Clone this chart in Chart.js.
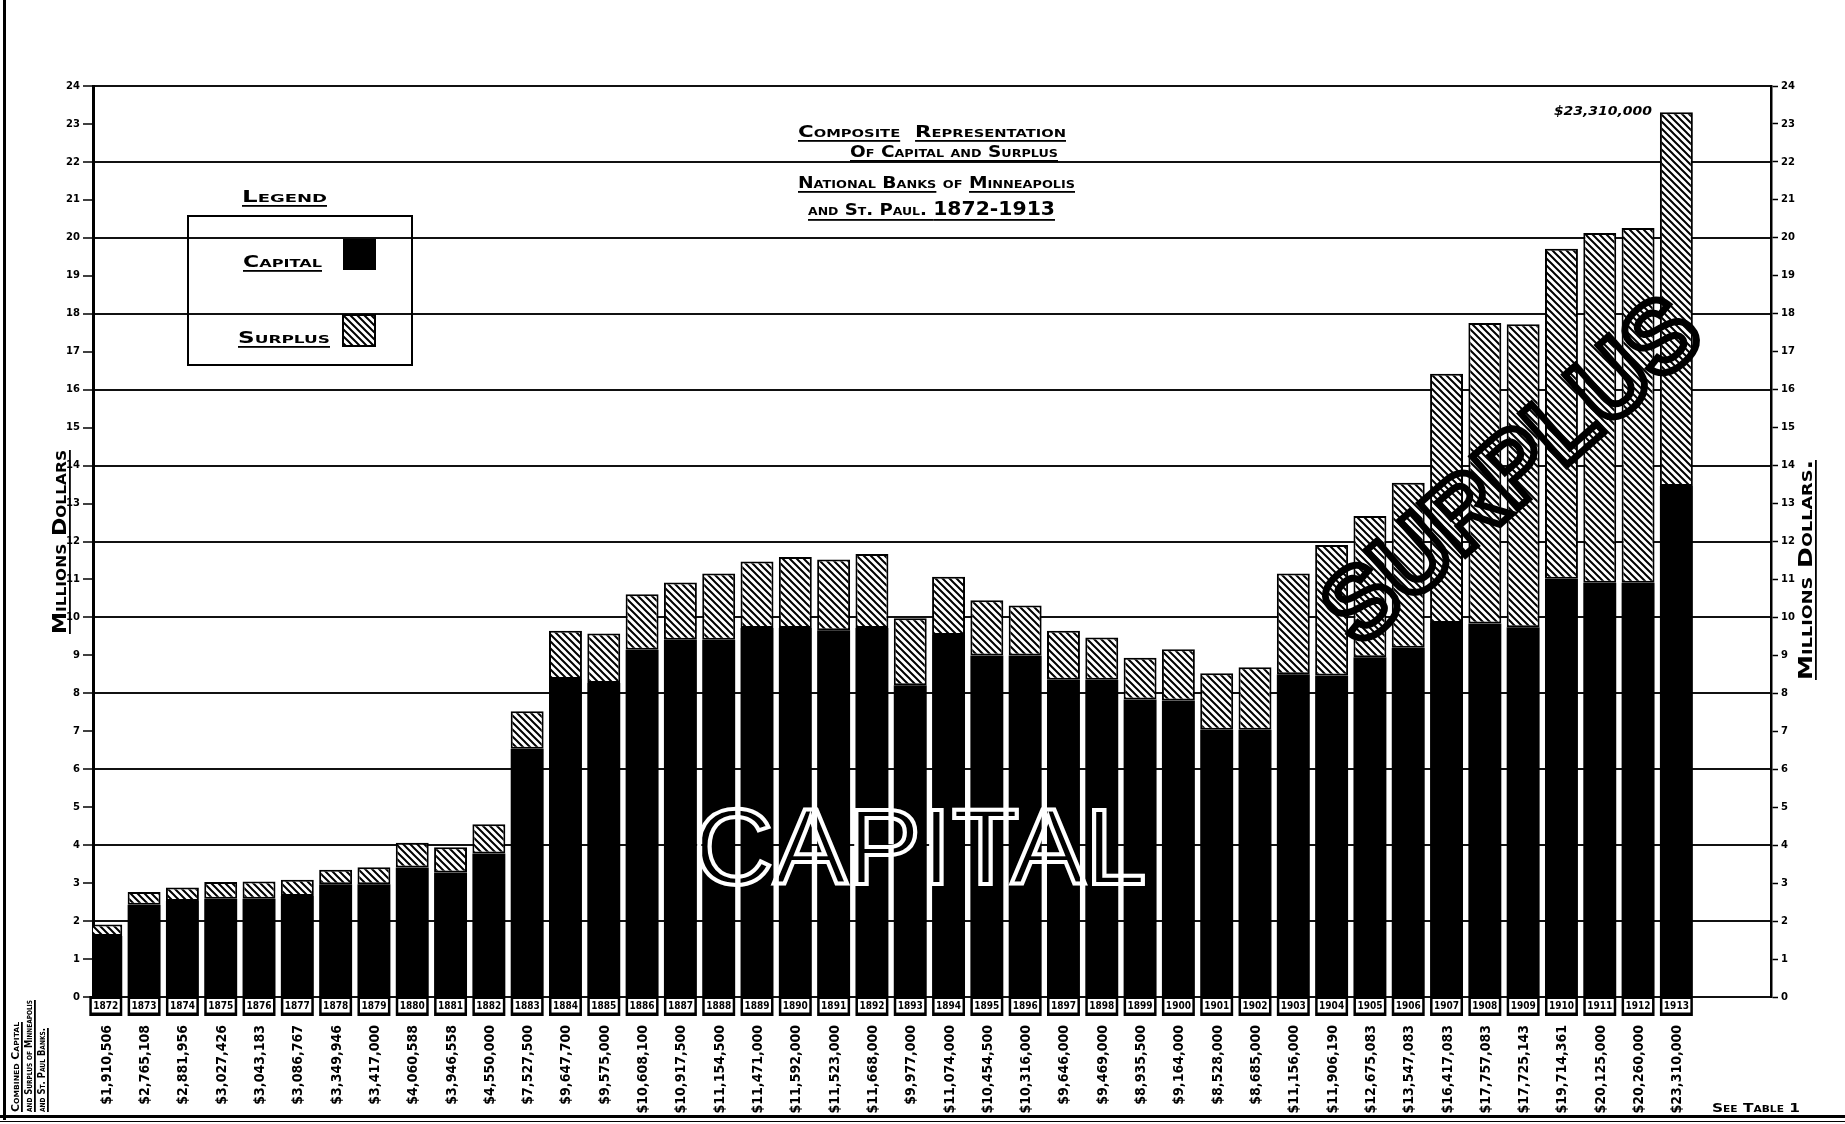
<!DOCTYPE html>
<html>
<head>
<meta charset="utf-8">
<title>Capital and Surplus, National Banks of Minneapolis and St. Paul, 1872-1913</title>
<script src="https://cdn.jsdelivr.net/npm/chart.js@4.4.1/dist/chart.umd.min.js"></script>
<style>
  html, body { margin: 0; padding: 0; background: #fff; }
  #chart { display: block; }
</style>
</head>
<body>
<canvas id="chart" width="1845" height="1124"></canvas>
<script>
const years = [1872, 1873, 1874, 1875, 1876, 1877, 1878, 1879, 1880, 1881, 1882, 1883, 1884, 1885,
  1886, 1887, 1888, 1889, 1890, 1891, 1892, 1893, 1894, 1895, 1896, 1897, 1898, 1899, 1900, 1901,
  1902, 1903, 1904, 1905, 1906, 1907, 1908, 1909, 1910, 1911, 1912, 1913];

// combined capital and surplus, dollars (written under each bar)
const totals = [1910506, 2765108, 2881956, 3027426, 3043183, 3086767, 3349946, 3417000, 4060588,
  3946558, 4550000, 7527500, 9647700, 9575000, 10608100, 10917500, 11154500, 11471000, 11592000,
  11523000, 11668000, 9977000, 11074000, 10454500, 10316000, 9646000, 9469000, 8935500, 9164000,
  8528000, 8685000, 11156000, 11906190, 12675083, 13547083, 16417083, 17757083, 17725143,
  19714361, 20125000, 20260000, 23310000];

// capital part, millions of dollars
const capital = [1.61, 2.43, 2.53, 2.59, 2.59, 2.66, 2.97, 2.97, 3.41, 3.28, 3.78, 6.54, 8.38, 8.27,
  9.15, 9.41, 9.41, 9.72, 9.72, 9.66, 9.72, 8.21, 9.54, 9.00, 9.00, 8.36, 8.36, 7.84, 7.81, 7.04,
  7.04, 8.50, 8.47, 8.95, 9.20, 9.85, 9.84, 9.74, 11.02, 10.91, 10.91, 13.46];

const yMin = 0;
const yMax = 24;

// surplus is whatever sits on top of capital up to the combined figure
const surplus = totals.map((t, i) => t / 1e6 - capital[i]);

const capitalPts = capital.map((v, i) => ({ x: i, y: v }));
const surplusPts = surplus.map((v, i) => ({ x: i, y: v }));

const canvas = document.getElementById('chart');
const ctx = canvas.getContext('2d');

function hatchPattern(c) {
  const t = document.createElement('canvas');
  t.width = 7; t.height = 7;
  const g = t.getContext('2d');
  g.fillStyle = '#fff';
  g.fillRect(0, 0, 7, 7);
  g.strokeStyle = '#000';
  g.lineWidth = 2;
  g.beginPath();
  g.moveTo(-2, -2); g.lineTo(9, 9);
  g.moveTo(-2, 5); g.lineTo(2, 9);
  g.moveTo(5, -2); g.lineTo(9, 2);
  g.stroke();
  return c.createPattern(t, 'repeat');
}
const hatch = hatchPattern(ctx);

const SC = (size, w) => 'small-caps ' + (w || 'bold') + ' ' + size + 'px "DejaVu Sans", sans-serif';

function money(n) {
  return '$' + n.toLocaleString('en-US');
}

// draw a run of text pieces squeezed into [x0, x1], underlining the flagged ones
function drawLine(c, segs, x0, x1, y, ulY) {
  let total = 0;
  segs.forEach(s => { c.font = s.f; total += c.measureText(s.t).width; });
  const k = (x1 - x0) / total;
  let x = x0;
  c.textAlign = 'left';
  c.textBaseline = 'alphabetic';
  segs.forEach(s => {
    c.font = s.f;
    const w = c.measureText(s.t).width * k;
    c.save();
    c.translate(x, y);
    c.scale(k, 1);
    c.fillText(s.t, 0, 0);
    c.restore();
    if (s.u && ulY != null) c.fillRect(x, ulY, w, 1.8);
    x += w;
  });
}

function fitCenter(c, text, x, y, maxW) {
  const w = c.measureText(text).width;
  const k = Math.min(1, maxW / w);
  c.save();
  c.translate(x, y);
  c.scale(k, 1);
  c.fillText(text, 0, 0);
  c.restore();
}

const decor = {
  id: 'decor',
  afterDraw(chart) {
    const c = chart.ctx;
    const bars = chart.getDatasetMeta(0).data;
    const tops = chart.getDatasetMeta(1).data;
    const base = chart.scales.y.getPixelForValue(0);
    c.save();
    c.fillStyle = '#000';

    // year boxes and combined totals under the bars
    bars.forEach((b, i) => {
      const w = b.width, x0 = b.x - w / 2;
      c.fillStyle = '#000';
      c.fillRect(x0, base - 1, w, 20);
      c.fillStyle = '#fff';
      c.fillRect(x0 + 2.5, base + 2, w - 5, 13.5);
      c.fillStyle = '#000';
      c.font = 'bold 10px "DejaVu Sans Condensed", "DejaVu Sans", sans-serif';
      c.textAlign = 'center';
      c.textBaseline = 'middle';
      fitCenter(c, String(years[i]), b.x, base + 9.5, w - 7);

      c.save();
      c.translate(b.x + 5, base + 28);
      c.rotate(-Math.PI / 2);
      c.textAlign = 'right';
      c.textBaseline = 'alphabetic';
      c.font = 'bold 14px "DejaVu Sans Condensed", "DejaVu Sans", sans-serif';
      c.fillText(money(totals[i]), 0, 0);
      c.restore();
    });

    // figure beside the tallest bar
    const last = tops[tops.length - 1];
    drawLine(c, [{ t: money(totals[totals.length - 1]), f: 'italic bold 13px "DejaVu Sans", sans-serif' }],
      last.x - last.width / 2 - 106, last.x - last.width / 2 - 8, last.y + 3, null);

    // title
    const big = SC(16);
    drawLine(c, [{ t: 'Composite', f: big, u: true }, { t: '  ', f: big }, { t: 'Representation', f: big, u: true }], 798, 1066, 137, 140);
    drawLine(c, [{ t: 'Of Capital and Surplus', f: big, u: true }], 850, 1058, 157, 160);
    drawLine(c, [{ t: 'National Banks', f: big, u: true }, { t: ' of ', f: big }, { t: 'Minneapolis', f: big, u: true }], 798, 1075, 188, 191);
    drawLine(c, [{ t: 'and St. Paul. ', f: big, u: true }, { t: '1872-1913', f: 'bold 20px "DejaVu Sans Condensed", "DejaVu Sans", sans-serif', u: true }], 808, 1055, 215, 219);

    // legend
    drawLine(c, [{ t: 'Legend', f: SC(15), u: true }], 242, 327, 202, 205);
    c.lineWidth = 2;
    c.strokeStyle = '#000';
    c.strokeRect(188, 216, 224, 149);
    drawLine(c, [{ t: 'Capital', f: SC(15), u: true }], 243, 322, 267, 270);
    c.fillRect(343, 239, 33, 31);
    drawLine(c, [{ t: 'Surplus', f: SC(15), u: true }], 238, 330, 343, 346);
    c.fillStyle = hatch;
    c.fillRect(343, 315, 32, 31);
    c.fillStyle = '#000';
    c.strokeRect(343, 315, 32, 31);

    // axis titles, written upward
    c.save();
    c.translate(66, 542);
    c.rotate(-Math.PI / 2);
    drawLine(c, [{ t: 'Millions Dollars', f: SC(20), u: true }], -92, 92, 0, 3);
    c.restore();
    c.save();
    c.translate(1812, 570);
    c.rotate(-Math.PI / 2);
    drawLine(c, [{ t: 'Millions Dollars.', f: SC(20), u: true }], -110, 110, 0, 3);
    c.restore();

    // note in the lower left corner
    const small = SC(10);
    [['Combined Capital', 19, 90], ['and Surplus of Minneapolis', 32, 112], ['and St. Paul Banks.', 45, 84]].forEach(([t, x, len]) => {
      c.save();
      c.translate(x, 1112);
      c.rotate(-Math.PI / 2);
      drawLine(c, [{ t: t, f: small, u: true }], 0, len, 0, 2);
      c.restore();
    });

    drawLine(c, [{ t: 'See Table 1', f: SC(13) }], 1712, 1800, 1112, null);

    // big lettering across the bars
    c.save();
    c.font = '107px "Liberation Sans", Arial, sans-serif';
    c.textAlign = 'center';
    c.textBaseline = 'alphabetic';
    const cw = c.measureText('CAPITAL').width;
    c.translate(920, 884);
    c.scale(453 / cw, 1);
    c.strokeStyle = '#fff';
    c.lineWidth = 4;
    c.lineJoin = 'miter';
    c.strokeText('CAPITAL', 0, 0);
    c.restore();

    c.save();
    c.font = 'bold 100px "Liberation Sans", Arial, sans-serif';
    c.textAlign = 'center';
    c.textBaseline = 'middle';
    const sw = c.measureText('SURPLUS').width;
    c.translate(1515, 474);
    c.rotate(-41.5 * Math.PI / 180);
    c.scale(465 / sw, 1);
    c.strokeStyle = '#000';
    c.lineJoin = 'miter';
    c.lineWidth = 7;
    c.strokeText('SURPLUS', 0, 0);
    c.restore();

    // sheet border
    c.fillRect(3, 0, 3, 1120);
    c.fillRect(0, 1115, 1845, 3);
    c.fillRect(0, 1121, 1845, 1);
    c.restore();
  }
};

const tickFont = { family: '"DejaVu Sans", sans-serif', weight: 'bold', size: 10 };

new Chart(ctx, {
  type: 'bar',
  data: {
    datasets: [
      {
        label: 'Capital',
        data: capitalPts,
        backgroundColor: '#000',
        borderWidth: 0
      },
      {
        label: 'Surplus',
        data: surplusPts,
        backgroundColor: hatch,
        borderColor: '#000',
        borderWidth: 2,
        borderSkipped: false
      }
    ]
  },
  options: {
    responsive: false,
    animation: false,
    layout: { padding: { top: 86, bottom: 127, left: 0, right: 0 } },
    datasets: { bar: { categoryPercentage: 1, barPercentage: 0.86 } },
    scales: {
      x: {
        type: 'linear',
        min: -0.334,
        max: 43.47,
        offset: false,
        bounds: 'data',
        stacked: true,
        display: false
      },
      y: {
        stacked: true,
        min: yMin,
        max: yMax,
        z: 1,
        afterFit: s => { s.width = 93; },
        ticks: { stepSize: 1, color: '#000', font: tickFont, padding: 3 },
        grid: {
          color: c => (c.tick && c.tick.value % 2 === 0) ? '#111' : 'rgba(0,0,0,0)',
          lineWidth: 2,
          tickColor: '#000',
          tickWidth: 1.5,
          tickLength: 10
        },
        border: { color: '#000', width: 3 }
      },
      y2: {
        position: 'right',
        min: yMin,
        max: yMax,
        afterFit: s => { s.width = 74; },
        ticks: { stepSize: 1, color: '#000', font: tickFont, padding: 3 },
        grid: { drawOnChartArea: false, tickColor: '#000', tickWidth: 1.5, tickLength: 7 },
        border: { color: '#000', width: 2.5 }
      }
    },
    plugins: {
      legend: { display: false },
      tooltip: { enabled: false }
    }
  },
  plugins: [decor]
});
</script>
</body>
</html>
